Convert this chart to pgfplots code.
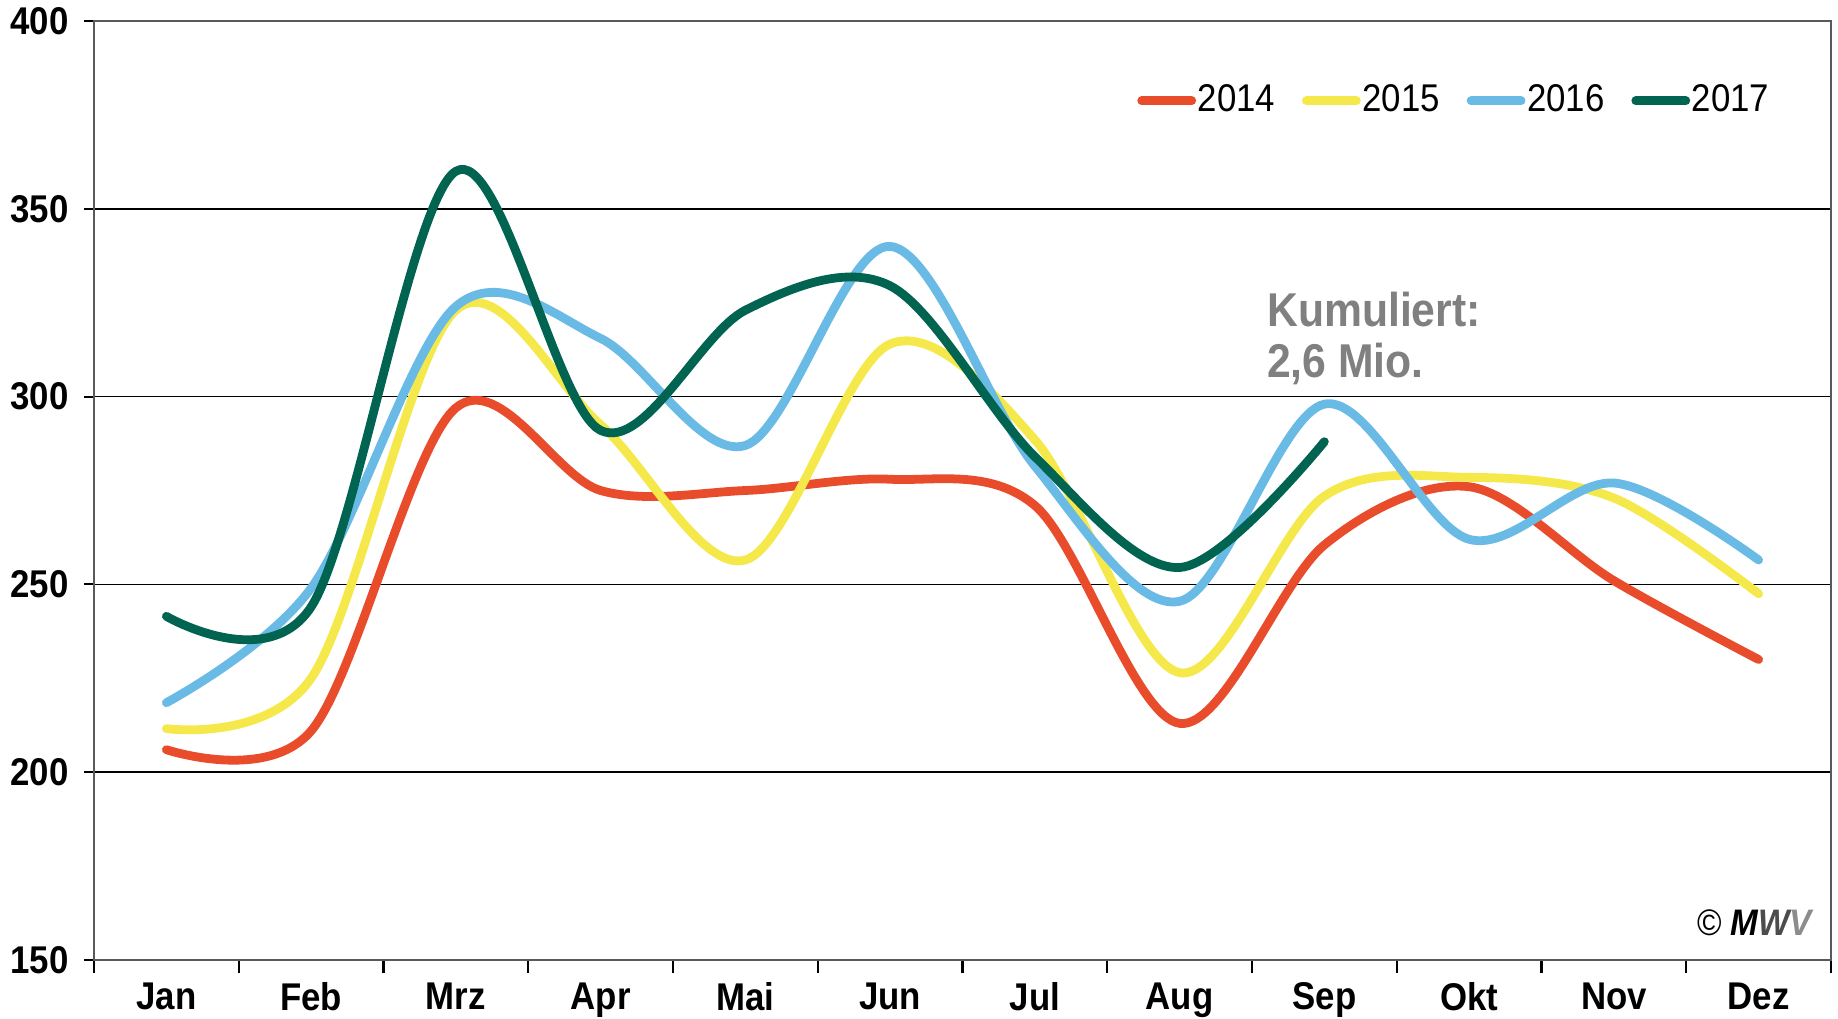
\documentclass[border=0pt]{standalone}
\usepackage{fontspec}
\setmainfont{Liberation Sans}[FakeStretch=0.9]
\usepackage{pgfplots}
\pgfplotsset{compat=1.18}
\definecolor{c14}{RGB}{232,76,42}
\definecolor{c15}{RGB}{245,232,74}
\definecolor{c16}{RGB}{106,186,230}
\definecolor{c17}{RGB}{0,100,80}
\pgfplotsset{yr/.style={line width=2.5pt, smooth, tension=0.55, line cap=round, line join=round}}

\begin{document}
\begin{tikzpicture}
\begin{axis}[
    scale only axis, width=17.37cm, height=9.39cm,
    xmin=0.5, xmax=12.5, ymin=150, ymax=400,
    xtick={1,...,12},
    xticklabels={Jan,Feb,Mrz,Apr,Mai,Jun,Jul,Aug,Sep,Okt,Nov,Dez},
    minor xtick={0.5,1.5,...,12.5},
    ytick={150,200,...,400},
    xtick pos=bottom, ytick pos=left,
    ymajorgrids, grid style={black, line width=0.5pt},
    axis line style={black!65, line width=0.7pt},
    tick align=outside,
    major x tick style={draw=none},
    major tick length=1mm, minor tick length=1.3mm,
    tick style={black, line width=0.6pt},
    /pgf/number format/assume math mode=true,
    tick label style={font=\bfseries\fontsize{11}{12}\selectfont},
    yticklabel style={xshift=-0.3mm},
    legend style={at={(0.972,0.915)}, anchor=east, draw=none, fill=none,
        font=\fontsize{11}{13}\selectfont, column sep=0pt,
        nodes={inner xsep=0.5pt},
        /tikz/every even column/.style={column sep=2.5mm}},
    legend columns=4,
    legend image code/.code={\draw[#1, line cap=round] (0cm,0cm) -- (0.5cm,0cm);},
]
\addplot[yr, c14] coordinates {
  (1,206) (2,211) (3,297) (4,275) (5,275) (6,278)
  (7,271) (8,213) (9,260.5) (10,276) (11,251) (12,230)};
\addlegendentry{2014}
\addplot[yr, c15] coordinates {
  (1,211.6) (2,225) (3,323) (4,292.5) (5,256.5) (6,314)
  (7,288.5) (8,226.5) (9,273.5) (10,278.5) (11,273) (12,247.5)};
\addlegendentry{2015}
\addplot[yr, c16] coordinates {
  (1,218.5) (2,249) (3,324) (4,315.5) (5,287) (6,340)
  (7,281.5) (8,245.5) (9,298) (10,262) (11,277) (12,256.5)};
\addlegendentry{2016}
\addplot[yr, c17] coordinates {
  (1,241.5) (2,244) (3,360) (4,291) (5,323) (6,329.5)
  (7,284) (8,254.5) (9,288)};
\addlegendentry{2017}

\node[anchor=north west, inner sep=0pt, align=left, text=black!50,
  font=\bfseries\fontsize{13.5}{14.5}\selectfont] at (axis cs:8.6,328) {Kumuliert:\\2,6 Mio.};
\node[anchor=west, inner sep=0pt, font=\fontsize{10.5}{12}\selectfont]
  at (axis cs:11.57,160) {© \textbf{\textit{M\textcolor{black!70}{W}\textcolor{black!45}{V}}}};
\end{axis}
\pgfresetboundingbox
\path ([shift={(-0.94cm,-0.58cm)}]current axis.south west)
  rectangle ([shift={(0.07cm,0.21cm)}]current axis.north east);
\end{tikzpicture}
\end{document}
